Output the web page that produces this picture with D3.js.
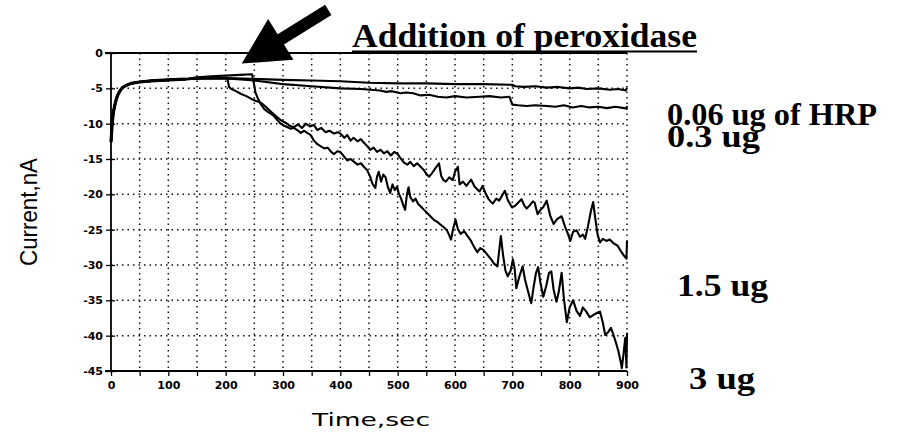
<!DOCTYPE html>
<html>
<head>
<meta charset="utf-8">
<script src="https://cdn.jsdelivr.net/npm/d3@7"></script>
<style>
    body { margin: 0; background: #fff; }
    svg { display: block; }
</style>
</head>
<body>
<div id="chart"></div>
<script>
// Datos (tiempo en s, corriente en nA)
const xTicks = [0, 100, 200, 300, 400, 500, 600, 700, 800, 900];
const yTicks = [0, -5, -10, -15, -20, -25, -30, -35, -40, -45];
const seriesLabels = ["0.06 ug of HRP", "0.3 ug", "1.5 ug", "3 ug"];

// Subida inicial común a las cuatro curvas
const commonRise = [
    [0, -12.6], [2, -10], [4, -8.5], [6, -7.6], [9, -6.6], [12, -5.9], [16, -5.3],
    [20, -4.9], [26, -4.6], [35, -4.3], [50, -4.1], [70, -3.95], [100, -3.8], [130, -3.7]
];

const hrp006 = [
    [160, -3.6], [200, -3.55], [230, -3.6], [260, -3.7], [300, -3.8], [350, -3.9], [400, -4.0],
    [450, -4.2], [500, -4.3], [550, -4.3], [600, -4.4], [650, -4.4], [700, -4.5], [705, -4.7],
    [720, -4.8], [740, -4.7], [760, -4.9], [780, -4.8], [800, -5.0], [815, -4.9], [830, -5.1],
    [850, -5.0], [870, -5.2], [885, -5.1], [898, -5.3], [900, -4.9]
];

const hrp03 = [
    [160, -3.6], [200, -3.6], [220, -3.7], [250, -3.9], [300, -4.4], [350, -4.7], [400, -5.0],
    [436, -5.1], [469, -5.3], [480, -5.5], [490, -5.4], [505, -5.7], [515, -5.6], [527, -5.7],
    [540, -6.0], [555, -5.9], [570, -6.2], [585, -6.3], [600, -6.1], [620, -6.3], [643, -6.2],
    [660, -6.1], [680, -6.3], [695, -6.2], [700, -7.3], [710, -7.4], [725, -7.5], [740, -7.4],
    [760, -7.5], [775, -7.6], [790, -7.4], [805, -7.7], [820, -7.5], [835, -7.7], [850, -7.6],
    [865, -7.8], [880, -7.6], [895, -7.8], [899, -7.9], [900, -7.5]
];

const hrp15 = [
    [160, -3.6], [200, -3.55], [203, -3.6], [206, -4.8], [210, -5.1], [218, -5.4], [227, -5.8],
    [236, -6.1], [245, -6.5], [253, -6.8], [261, -7.0], [270, -7.6], [279, -8.3], [287, -8.9],
    [296, -9.5], [305, -9.9], [312, -10.3], [319, -10.5], [326, -10.1], [333, -10.6], [340, -10.0],
    [347, -10.4], [354, -10.2], [360, -10.9], [367, -10.6], [374, -11.2], [381, -11.0], [389, -11.4],
    [396, -11.2], [400, -11.4], [407, -12.0], [412, -11.6], [418, -12.4], [423, -12.0], [430, -12.5],
    [436, -12.2], [440, -12.6], [447, -13.2], [452, -13.7], [458, -13.4], [464, -14.0], [470, -13.7],
    [476, -14.2], [482, -13.9], [488, -14.5], [494, -14.0], [500, -14.3], [506, -15.0], [511, -15.5],
    [517, -15.8], [522, -15.4], [528, -16.0], [534, -15.6], [540, -16.1], [546, -16.6], [551, -17.2],
    [555, -17.5], [560, -17.0], [565, -16.4], [572, -15.6], [576, -17.4], [580, -18.0], [584, -18.2],
    [590, -17.6], [596, -18.0], [600, -16.8], [605, -16.1], [608, -18.6], [614, -18.2], [620, -18.8],
    [628, -17.9], [634, -18.9], [640, -19.4], [643, -19.6], [648, -18.8], [653, -19.8], [658, -20.6],
    [662, -21.0], [666, -21.3], [672, -20.6], [677, -20.9], [682, -20.2], [687, -19.5], [692, -20.8],
    [699, -21.8], [704, -21.7], [710, -21.2], [716, -20.7], [721, -21.6], [725, -22.0], [731, -21.5],
    [736, -21.0], [739, -21.2], [744, -22.8], [749, -22.2], [754, -21.8], [760, -20.9], [766, -23.0],
    [772, -24.2], [778, -23.5], [786, -23.1], [792, -24.6], [797, -25.6], [801, -26.6], [806, -25.3],
    [812, -25.1], [818, -26.0], [823, -25.7], [827, -26.3], [832, -24.5], [837, -22.4], [841, -21.1],
    [845, -23.6], [849, -25.8], [853, -26.8], [858, -26.3], [864, -26.6], [870, -26.4], [876, -26.9],
    [880, -27.1], [884, -27.3], [889, -28.0], [894, -28.6], [899, -29.1], [900, -26.6]
];

const hrp3 = [
    [150, -3.45], [175, -3.3], [200, -3.2], [225, -3.1], [246, -3.0], [249, -4.2], [252, -5.6],
    [256, -6.4], [261, -7.2], [267, -7.9], [273, -8.3], [279, -8.6], [284, -8.9], [290, -9.5],
    [296, -10.0], [302, -10.3], [308, -10.5], [313, -10.7], [319, -10.6], [325, -10.9], [331, -11.3],
    [337, -11.0], [342, -11.3], [348, -11.6], [354, -12.4], [360, -12.9], [366, -13.2], [372, -13.5],
    [378, -13.4], [384, -14.0], [389, -14.3], [395, -13.9], [400, -14.0], [406, -14.6], [412, -15.2],
    [418, -15.0], [424, -15.4], [430, -15.8], [436, -15.6], [441, -16.1], [447, -16.6], [452, -17.5],
    [456, -18.5], [461, -19.1], [464, -17.5], [467, -16.8], [471, -18.2], [475, -17.2], [479, -17.6],
    [483, -19.0], [487, -19.8], [491, -18.6], [495, -19.4], [499, -18.9], [502, -19.9], [506, -20.6],
    [510, -21.6], [513, -22.2], [516, -20.1], [519, -19.0], [522, -20.4], [527, -21.0], [531, -20.6],
    [536, -21.4], [540, -21.7], [546, -22.2], [551, -22.6], [557, -23.1], [563, -23.6], [569, -23.9],
    [575, -24.3], [581, -24.7], [586, -25.1], [590, -25.8], [593, -26.4], [597, -24.8], [601, -23.6],
    [605, -24.9], [610, -25.6], [616, -25.2], [622, -25.9], [628, -26.6], [633, -27.4], [639, -28.2],
    [644, -27.6], [650, -27.9], [657, -28.6], [663, -29.2], [668, -29.8], [674, -30.2], [677, -28.0],
    [680, -25.9], [684, -28.7], [688, -30.8], [692, -31.6], [697, -30.8], [701, -29.2], [704, -30.5],
    [707, -33.3], [712, -31.7], [718, -30.2], [722, -32.0], [727, -33.6], [733, -35.4], [737, -33.2],
    [741, -31.2], [745, -30.3], [749, -32.5], [754, -34.5], [759, -33.0], [764, -31.1], [768, -30.9],
    [772, -33.5], [777, -35.2], [781, -33.8], [786, -31.1], [790, -34.8], [795, -38.1], [800, -36.0],
    [806, -35.0], [812, -36.5], [818, -37.2], [823, -36.0], [829, -36.6], [835, -37.4], [841, -37.1],
    [847, -36.8], [853, -36.6], [858, -38.2], [862, -39.9], [867, -39.5], [872, -38.9], [876, -39.8],
    [880, -40.8], [885, -42.2], [889, -43.7], [891, -44.6], [894, -42.5], [897, -40.3], [899, -44.5],
    [900, -39.6]
];

// Flecha "Addition of peroxidase" en unidades de datos: punta y cola
const arrowTip = [228, -1.5];
const arrowTail = [379, 6.1];

/**
 * Dibuja el gráfico completo.
 */
function drawChart() {
    const width = 915;
    const height = 434;
    const plot = { left: 111, right: 627, top: 53, bottom: 371 };

    const svg = d3.select("#chart").append("svg")
        .attr("width", width)
        .attr("height", height);

    const x = d3.scaleLinear().domain([0, 900]).range([plot.left, plot.right]);
    const y = d3.scaleLinear().domain([0, -45]).range([plot.top, plot.bottom]);

    // Rejilla punteada: cada 50 s y cada 5 nA
    const grid = svg.append("g")
        .attr("stroke", "#111")
        .attr("stroke-width", 1.5)
        .attr("stroke-dasharray", "1.5,4");

    grid.selectAll("line.v")
        .data(d3.range(50, 901, 50))
        .enter().append("line")
        .attr("x1", d => x(d)).attr("x2", d => x(d))
        .attr("y1", plot.top).attr("y2", plot.bottom);

    grid.selectAll("line.h")
        .data(yTicks.slice(1, -1))
        .enter().append("line")
        .attr("x1", plot.left).attr("x2", plot.right)
        .attr("y1", d => y(d)).attr("y2", d => y(d));

    // Ejes
    const xAxis = d3.axisBottom(x)
        .tickValues(d3.range(0, 901, 50))
        .tickSize(5)
        .tickFormat(d => xTicks.includes(d) ? d : "");

    const yAxis = d3.axisLeft(y)
        .tickValues(yTicks)
        .tickSize(5)
        .tickFormat(d => d);

    const gx = svg.append("g")
        .attr("transform", `translate(0,${plot.bottom})`)
        .call(xAxis);

    const gy = svg.append("g")
        .attr("transform", `translate(${plot.left},0)`)
        .call(yAxis);

    [gx, gy].forEach(g => {
        g.select(".domain").attr("stroke", "#000").attr("stroke-width", 1.8);
        g.selectAll(".tick line").attr("stroke", "#000").attr("stroke-width", 1.3);
        g.selectAll("text")
            .attr("fill", "#000")
            .style("font-family", "'DejaVu Sans', sans-serif")
            .style("font-weight", "bold")
            .style("font-size", "11px");
    });
    gx.selectAll(".tick text").attr("dy", "0.95em");
    // Marcas del eje Y en forma de cruz
    gy.selectAll(".tick line").attr("x1", 4);
    gy.select(".domain").attr("d", `M0,${plot.top}V${plot.bottom}`);
    gx.select(".domain").attr("d", `M${plot.left - 6},0H${plot.right}`);

    // Borde superior en 0
    svg.append("line")
        .attr("x1", plot.left - 6).attr("x2", plot.right)
        .attr("y1", y(0)).attr("y2", y(0))
        .attr("stroke", "#000").attr("stroke-width", 1.8);

    // Curvas
    const line = d3.line()
        .x(d => x(d[0]))
        .y(d => y(d[1]));

    const allSeries = [hrp006, hrp03, hrp15, hrp3];
    svg.append("g").selectAll("path")
        .data(allSeries)
        .enter().append("path")
        .attr("d", d => line(commonRise.concat(d)))
        .attr("fill", "none")
        .attr("stroke", "#000")
        .attr("stroke-width", 2.1)
        .attr("stroke-linejoin", "round");

    // La subida común se ve más gruesa en el original
    svg.append("path")
        .attr("d", line(commonRise))
        .attr("fill", "none")
        .attr("stroke", "#000")
        .attr("stroke-width", 3.2)
        .attr("stroke-linejoin", "round");

    // Títulos de ejes
    svg.append("text")
        .attr("x", 371).attr("y", 426)
        .attr("text-anchor", "middle")
        .attr("textLength", 118)
        .attr("lengthAdjust", "spacingAndGlyphs")
        .style("font-family", "'DejaVu Sans', sans-serif")
        .style("font-size", "18px")
        .text("Time,sec");

    svg.append("text")
        .attr("transform", "translate(37,212) rotate(-90)")
        .attr("text-anchor", "middle")
        .attr("textLength", 108)
        .attr("lengthAdjust", "spacingAndGlyphs")
        .style("font-family", "'Liberation Sans', Arial, sans-serif")
        .style("font-size", "23px")
        .text("Current,nA");

    drawArrow(svg, x, y);

    // Título con subrayado
    svg.append("text")
        .attr("x", 352).attr("y", 47)
        .attr("textLength", 345)
        .attr("lengthAdjust", "spacingAndGlyphs")
        .style("font-family", "'Liberation Serif', 'Times New Roman', serif")
        .style("font-weight", "bold")
        .style("font-size", "33px")
        .text("Addition of peroxidase");

    svg.append("line")
        .attr("x1", 352).attr("x2", 697)
        .attr("y1", 51.5).attr("y2", 51.5)
        .attr("stroke", "#000").attr("stroke-width", 1.8);

    // Etiquetas de las series; las dos primeras van juntas en un solo bloque
    const labelStyle = sel => sel
        .style("font-family", "'Liberation Serif', 'Times New Roman', serif")
        .style("font-weight", "bold")
        .style("font-size", "32px")
        .attr("lengthAdjust", "spacingAndGlyphs");

    const topLabel = svg.append("text").call(labelStyle).attr("lengthAdjust", null);
    topLabel.append("tspan")
        .attr("x", 667).attr("y", 125)
        .attr("textLength", 210)
        .attr("lengthAdjust", "spacingAndGlyphs")
        .text(seriesLabels[0]);
    topLabel.append("tspan")
        .attr("x", 667).attr("y", 147)
        .attr("textLength", 93)
        .attr("lengthAdjust", "spacingAndGlyphs")
        .text(seriesLabels[1]);

    svg.append("text").call(labelStyle)
        .attr("x", 677).attr("y", 296)
        .attr("textLength", 91)
        .text(seriesLabels[2]);

    svg.append("text").call(labelStyle)
        .attr("x", 689).attr("y", 389)
        .attr("textLength", 66)
        .text(seriesLabels[3]);
}

/**
 * Dibuja la flecha gruesa que señala la adición de peroxidasa.
 * @param {Object} svg - Selección del SVG.
 * @param {Function} x - Escala X.
 * @param {Function} y - Escala Y.
 */
function drawArrow(svg, x, y) {
    const tip = [x(arrowTip[0]), y(arrowTip[1])];
    const tail = [x(arrowTail[0]), y(arrowTail[1])];
    const dx = tip[0] - tail[0];
    const dy = tip[1] - tail[1];
    const len = Math.hypot(dx, dy);
    const ux = dx / len, uy = dy / len;
    const nx = -uy, ny = ux;
    const headLen = 46, headHalf = 24, shaftHalf = 6;
    const base = [tip[0] - ux * headLen, tip[1] - uy * headLen];

    const pts = [
        [tail[0] + nx * shaftHalf, tail[1] + ny * shaftHalf],
        [base[0] + nx * shaftHalf, base[1] + ny * shaftHalf],
        [base[0] + nx * headHalf, base[1] + ny * headHalf],
        tip,
        [base[0] - nx * headHalf, base[1] - ny * headHalf],
        [base[0] - nx * shaftHalf, base[1] - ny * shaftHalf],
        [tail[0] - nx * shaftHalf, tail[1] - ny * shaftHalf]
    ];

    svg.append("polygon")
        .attr("points", pts.map(p => p.join(",")).join(" "))
        .attr("fill", "#000");
}

drawChart();
</script>
</body>
</html>
